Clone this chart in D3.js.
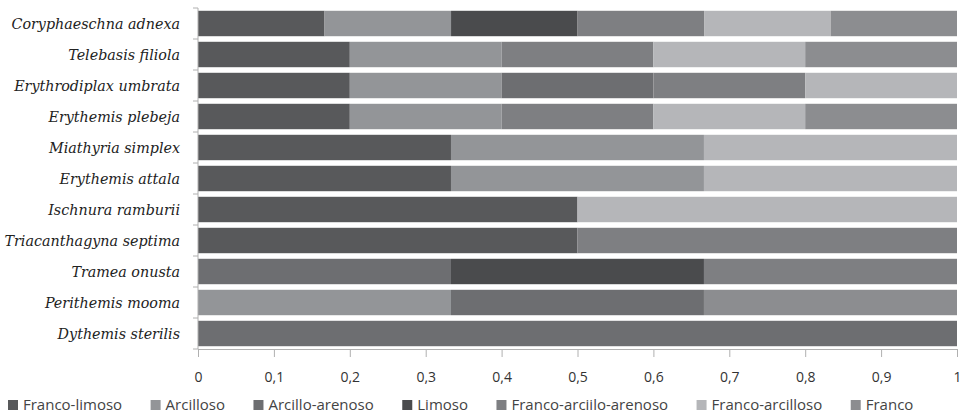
<!DOCTYPE html>
<html><head><meta charset="utf-8">
<script src="https://cdn.jsdelivr.net/npm/d3@7"></script>
<style>body{margin:0;background:#fff}</style>
</head><body>
<svg id="c" width="968" height="420"></svg>
<script>
const species = ["Coryphaeschna adnexa","Telebasis filiola","Erythrodiplax umbrata","Erythemis plebeja","Miathyria simplex","Erythemis attala","Ischnura ramburii","Triacanthagyna septima","Tramea onusta","Perithemis mooma","Dythemis sterilis"];
const soils = ["Franco-limoso","Arcilloso","Arcillo-arenoso","Limoso","Franco-arciilo-arenoso","Franco-arcilloso","Franco"];
const francoLimoso        = [0.1667,0.2,0.2,0.2,0.3333,0.3333,0.5,0.5,0,0,0];
const arcilloso           = [0.1667,0.2,0.2,0.2,0.3333,0.3333,0,0,0,0.3333,0];
const arcilloArenoso      = [0,0,0.2,0,0,0,0,0,0.3333,0.3333,1];
const limoso              = [0.1667,0,0,0,0,0,0,0,0.3333,0,0];
const francoArcilloArenoso= [0.1667,0.2,0.2,0.2,0,0,0,0.5,0.3334,0,0];
const francoArcilloso     = [0.1667,0.2,0.2,0.2,0.3334,0.3334,0.5,0,0,0,0];
const franco              = [0.1665,0.2,0,0.2,0,0,0,0,0,0.3334,0];
const xTicks = [0,0.1,0.2,0.3,0.4,0.5,0.6,0.7,0.8,0.9,1];
const colors = ["#58595b","#939598","#6d6e71","#4a4b4d","#7e7f82","#b5b6b9","#8c8d90"];

const seriesVals = [francoLimoso,arcilloso,arcilloArenoso,limoso,francoArcilloArenoso,francoArcilloso,franco];
const rows = species.map((s,i)=>{const o={sp:s}; soils.forEach((k,j)=>o[k]=seriesVals[j][i]); return o;});
const stack = d3.stack().keys(soils)(rows);

const svg = d3.select("#c");
const margin = {left:198, right:11, top:8, bottom:71};
const W = 968, H = 420;
const x = d3.scaleLinear().domain([0,1]).range([margin.left, W-margin.right]);
const y = d3.scaleBand().domain(species).range([margin.top, H-margin.bottom]).paddingInner(0.18).paddingOuter(0.09);
const color = d3.scaleOrdinal().domain(soils).range(colors);

svg.append("g").selectAll("g").data(stack).join("g")
  .attr("fill", d=>color(d.key))
  .selectAll("rect").data(d=>d).join("rect")
  .attr("x", d=>x(d[0])).attr("width", d=>Math.max(0,x(d[1])-x(d[0])))
  .attr("y", d=>y(d.data.sp)).attr("height", y.bandwidth());

// x axis
const xa = svg.append("g").attr("transform",`translate(0,${H-margin.bottom})`)
  .call(d3.axisBottom(x).tickValues(xTicks).tickSize(8).tickPadding(15)
    .tickFormat(d=>d3.format("")(d).replace(".",",")));
xa.select(".domain").attr("stroke","#b0b0b0");
xa.selectAll(".tick line").attr("stroke","#b0b0b0");
xa.selectAll("text").attr("font-family","'Open Sans', sans-serif").attr("font-size",14).attr("fill","#333");

// y axis
const yLine = svg.append("g");
yLine.append("line").attr("x1",x(0)).attr("x2",x(0)).attr("y1",margin.top).attr("y2",H-margin.bottom).attr("stroke","#b0b0b0");
const bounds = d3.range(species.length+1).map(i=>margin.top + i*((H-margin.bottom-margin.top)/species.length));
yLine.selectAll(".t").data(bounds).join("line").attr("x1",x(0)-5).attr("x2",x(0)).attr("y1",d=>d).attr("y2",d=>d).attr("stroke","#b0b0b0");
svg.append("g").selectAll("text").data(species).join("text")
  .attr("x", x(0)-18).attr("y", d=>y(d)+y.bandwidth()/2).attr("dy","0.35em")
  .attr("text-anchor","end").attr("font-family","'DejaVu Serif', serif").attr("font-style","italic")
  .attr("font-size",14.3).attr("fill","#222").text(d=>d);

// legend
const lg = svg.append("g").attr("transform","translate(8,410)");
let lx = 0;
soils.forEach((s,i)=>{
  const g = lg.append("g").attr("transform",`translate(${lx},0)`);
  g.append("rect").attr("x",0).attr("y",-10).attr("width",10).attr("height",10).attr("fill",color(s));
  const t = g.append("text").attr("x",15).attr("y",0).attr("font-family","'Open Sans', sans-serif").attr("font-size",15).attr("fill","#444").text(s);
  lx += 15 + t.node().getComputedTextLength() + 28.5;
});
</script>
</body></html>
